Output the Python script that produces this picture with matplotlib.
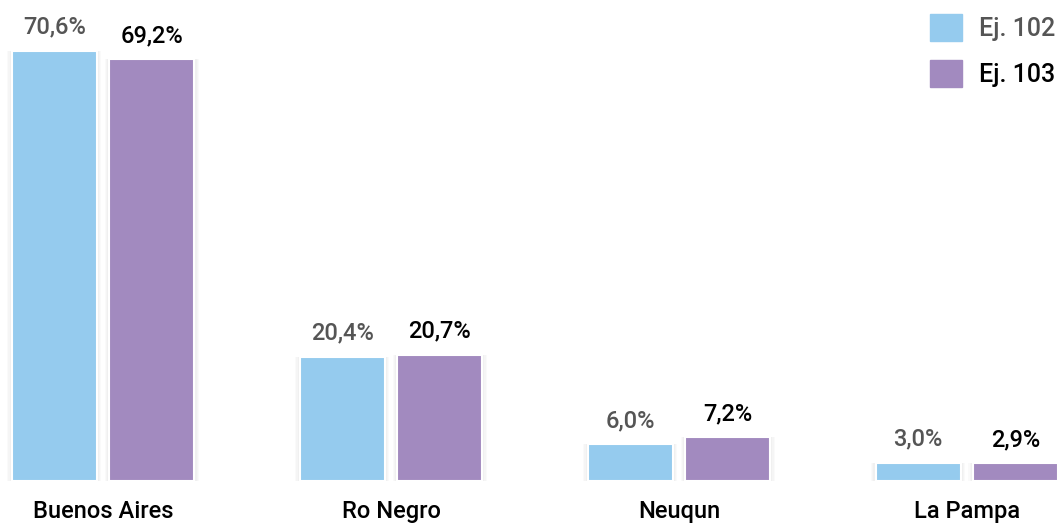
import numpy as np
import matplotlib.pyplot as plt
from matplotlib.patches import Patch

# datos
provincias = ['Buenos Aires', 'Ro Negro', 'Neuqun', 'La Pampa']
ej102 = [70.6, 20.4, 6.0, 3.0]
ej103 = [69.2, 20.7, 7.2, 2.9]
series = ['Ej. 102', 'Ej. 103']

c_azul = '#95CBEE'
c_lila = '#A28ABF'

plt.rcParams['font.family'] = ['Roboto', 'DejaVu Sans']

fig = plt.figure(figsize=(10.59, 5.23), dpi=100)
ax = fig.add_axes([0, 42/523, 1, 481/523])

x = np.arange(len(provincias))
w = 0.295
off = 0.169

# sombra suave detras de las barras
for dx, vals in [(-off, ej102), (off, ej103)]:
    for k in range(1, 5):
        ax.bar(x + dx, np.array(vals) + 0.25*k, w + k*0.008, bottom=-0.25*k,
               color='black', alpha=0.018, linewidth=0, zorder=1)

b1 = ax.bar(x - off, ej102, w, color=c_azul, edgecolor='white', linewidth=1.5, zorder=2)
b2 = ax.bar(x + off, ej103, w, color=c_lila, edgecolor='white', linewidth=1.5, zorder=2)

for xi, v in zip(x - off, ej102):
    ax.annotate(f'{v:.1f}%'.replace('.', ','), (xi, v), xytext=(0, 17),
                textcoords='offset points', ha='center', va='center',
                fontsize=17, color='#555555', fontweight='medium')
for xi, v in zip(x + off, ej103):
    ax.annotate(f'{v:.1f}%'.replace('.', ','), (xi, v), xytext=(0, 17),
                textcoords='offset points', ha='center', va='center',
                fontsize=17, color='black', fontweight='medium')

ax.set_xlim(-0.358, 3.32)
ax.set_ylim(0, 78.9)
ax.set_xticks(x)
ax.set_xticklabels(provincias, fontsize=17, fontweight='medium', color='black')
ax.tick_params(axis='x', length=0, pad=14)
ax.set_yticks([])
for s in ax.spines.values():
    s.set_visible(False)

handles = [Patch(color=c_azul), Patch(color=c_lila)]
leg = ax.legend(handles, series, loc='upper right', bbox_to_anchor=(1.009, 1.0),
                frameon=False, prop={'size': 18, 'weight': 'medium'},
                handlelength=1.3, handleheight=1.3,
                handletextpad=0.65, labelspacing=0.75, borderaxespad=0.15)
leg.get_texts()[0].set_color('#555555')
leg.get_texts()[1].set_color('black')

fig.savefig('out.png', dpi=100)
